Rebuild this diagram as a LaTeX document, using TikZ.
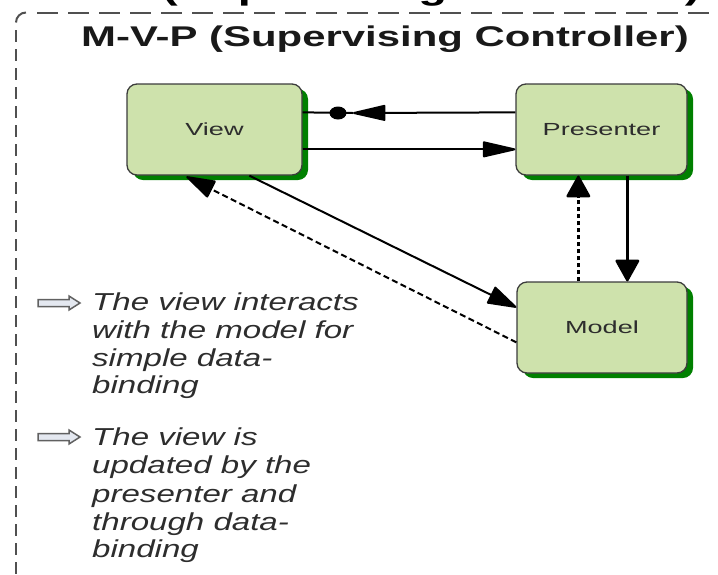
\documentclass[tikz,border=0pt]{standalone}
\usepackage{fontspec}
\setmainfont{Liberation Sans}
\newfontfamily\titlefont[FakeStretch=1.47]{Liberation Sans}
\newfontfamily\boxfont[FakeStretch=1.55]{Liberation Sans}
\newfontfamily\notefont[FakeStretch=1.35]{Liberation Sans}
\usetikzlibrary{arrows.meta,shadows}
\definecolor{boxgreen}{RGB}{206,226,172}
\definecolor{shadowgreen}{RGB}{0,128,0}
\definecolor{boxline}{RGB}{60,60,60}
\definecolor{textgray}{RGB}{45,45,45}
\definecolor{framegray}{RGB}{80,80,80}
\definecolor{hollowfill}{RGB}{228,232,240}
\tikzset{
  mvpbox/.style={draw=boxline, line width=1.3pt, fill=boxgreen, rounded corners=10pt,
    minimum height=91pt, inner sep=0pt, font=\boxfont\fontsize{17.5}{20}\selectfont, text=textgray,
    drop shadow={shadow xshift=6pt, shadow yshift=-5pt, fill=shadowgreen, opacity=1}},
  conn/.style={line width=2pt, draw=black},
  bigtip/.style={-{Triangle[length=36pt,width=16pt,round=false]}},
  vtip/.style={-{Triangle[length=23pt,width=25pt,round=false]}},
  dtip/.style={-{Triangle[length=31pt,width=19pt,round=false]}},
  noteline/.style={anchor=base west, inner sep=0pt, font=\notefont\itshape\fontsize{24.5}{28}\selectfont, text=textgray},
  notearrow/.style={draw=black!62, fill=hollowfill, line width=1.5pt, line join=miter},
  framestyle/.style={draw=framegray, line width=2pt}
}
\begin{document}
\begin{tikzpicture}[x=1pt,y=-1pt]
\useasboundingbox (0,0) rectangle (718,574);
\clip (0,0) rectangle (718,574);
% cut-off heading above the frame
\node[anchor=base west, inner sep=0pt, font=\titlefont\bfseries\fontsize{32}{36}\selectfont] (toptext) at (162,-1) {(Supervising Controller)};
% dashed frame
\draw[framestyle, dash pattern=on 21pt off 10pt] (37,12.5) -- (740,12.5);
\draw[framestyle, dash pattern=on 12pt off 7pt] (16,30) -- (16,600);
\draw[framestyle] (16,22.5) arc[start angle=180, end angle=90, radius=10pt];
% title
\node[anchor=base west, inner sep=0pt, font=\titlefont\bfseries\fontsize{28.5}{34}\selectfont, text=black!90] (title) at (81,46) {M-V-P (Supervising Controller)};
% boxes
\node[mvpbox, minimum width=175pt] (V) at (214.5,129.5) {View};
\node[mvpbox, minimum width=171pt] (P) at (601.5,129.5) {Presenter};
\node[mvpbox, minimum width=170pt] (M) at (602,327.5) {Model};
% connector coordinates
\coordinate (pw1) at ([yshift=-29pt]P.north west);
\coordinate (ve1) at ([yshift=-29pt]V.north east);
\coordinate (tip1) at (353,113);
\coordinate (dot1) at (338,113);
\coordinate (ve2) at ([yshift=-66pt]V.north east);
\coordinate (pw2) at ([yshift=-66pt]P.north west);
\coordinate (ps) at ([xshift=112pt]P.south west);
\coordinate (mn) at ([xshift=111pt]M.north west);
\coordinate (mn2) at ([xshift=62pt]M.north west);
\coordinate (ps2) at ([xshift=63pt]P.south west);
\coordinate (vs1) at ([xshift=123pt]V.south west);
\coordinate (mw1) at ([yshift=-26pt]M.north west);
\coordinate (mw2) at ([yshift=-61pt]M.north west);
\coordinate (vs2) at ([xshift=60pt, yshift=-1pt]V.south west);
% connectors
\draw[conn, bigtip] (pw1) -- (tip1);
\draw[conn] (tip1) -- (ve1);
\fill (dot1) ellipse [x radius=8.5pt, y radius=6.5pt];
\draw[conn, bigtip] (ve2) -- (pw2);
\draw[conn, line width=2.4pt, vtip] (ps) -- (mn);
\draw[conn, line width=2.4pt, vtip, dash pattern=on 4pt off 3pt] (mn2) -- (ps2);
\draw[conn, dtip] (vs1) -- (mw1);
\draw[conn, dtip, dash pattern=on 6pt off 3.5pt] (mw2) -- (vs2);
% notes
\draw[notearrow] (38,299.5) -- (69,299.5) -- (69,296) -- (80,303) -- (69,310) -- (69,306.5) -- (38,306.5) -- cycle;
\draw[notearrow] (38,433.5) -- (69,433.5) -- (69,430) -- (80,437) -- (69,444) -- (69,440.5) -- (38,440.5) -- cycle;
\node[noteline] (a1) at (92,310) {The view interacts};
\node[noteline] (a2) at (92,338) {with the model for};
\node[noteline] (a3) at (92,366) {simple data-};
\node[noteline] (a4) at (92,393) {binding};
\node[noteline] (b1) at (92,445) {The view is};
\node[noteline] (b2) at (92,473) {updated by the};
\node[noteline] (b3) at (92,502) {presenter and};
\node[noteline] (b4) at (92,530) {through data-};
\node[noteline] (b5) at (92,557) {binding};
\end{tikzpicture}
\end{document}
